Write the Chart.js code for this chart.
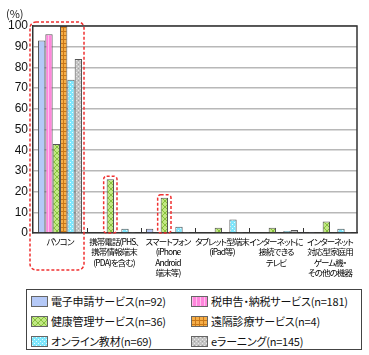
<!DOCTYPE html>
<html>
<head>
<meta charset="utf-8">
<script src="https://cdn.jsdelivr.net/npm/chart.js@4.4.1/dist/chart.umd.min.js"></script>
<style>
  body { margin: 0; background: #fff; font-family: "Noto Sans CJK JP", sans-serif;
         font-feature-settings: "palt"; }
  #wrap { position: relative; width: 369px; height: 355px; }
  canvas { display: block; }
  #unit { position: absolute; left: 6px; top: 5px; font-size: 11px; color: #222; }
  #legend { position: absolute; left: 26px; top: 289px; width: 336px; height: 61px;
            border: 1px solid #444; box-sizing: border-box; }
  .item { position: absolute; font-size: 11px; line-height: 14px; white-space: nowrap; color: #111;
          letter-spacing: -0.2px; }
  .item span.sw { display: inline-block; width: 15px; height: 9px; border: 1px solid #666;
                  vertical-align: -1px; margin-right: 3px; }
  .xl { position: absolute; font-size: 8.5px; line-height: 10.3px; text-align: center;
        white-space: nowrap; color: #000; transform: translateX(-50%); letter-spacing: -0.9px; }
</style>
</head>
<body>
<div id="wrap">
  <canvas id="c" width="369" height="289"></canvas>
  <div id="unit">(%)</div>
  <div id="legend"></div>
</div>
<script>
// categories (x axis), each one split into lines
const categories = [
  ["パソコン"],
  ["携帯電話(PHS、", "携帯情報端末", "(PDA)を含む)"],
  ["スマートフォン", "(iPhone", "Android", "端末等)"],
  ["タブレット型端末", "(iPad等)"],
  ["インターネットに", "接続できる", "テレビ"],
  ["インターネット", "対応型家庭用", "ゲーム機・", "その他の機器"]
];

const seriesNames = [
  "電子申請サービス(n=92)",
  "税申告・納税サービス(n=181)",
  "健康管理サービス(n=36)",
  "遠隔診療サービス(n=4)",
  "オンライン教材(n=69)",
  "eラーニング(n=145)"
];

// values in %
const denshi      = [93, 0,   2,   0,   0,   0.5];
const zeishinkoku = [96, 0,   0,   0,   0,   0];
const kenko       = [43, 26,  17,  2.5, 2.5, 5.5];
const enkaku      = [100, 0,  0,   0,   0,   0];
const online      = [74, 2,   3,   6.5, 1,   2];
const elearning   = [84, 0.5, 0.5, 0.5, 1.5, 0.5];

const yTicks = [0, 10, 20, 30, 40, 50, 60, 70, 80, 90, 100];

// little tiles for the hatched fills
function tile(size, bg, draw) {
  const cv = document.createElement('canvas');
  cv.width = size; cv.height = size;
  const g = cv.getContext('2d');
  g.fillStyle = bg;
  g.fillRect(0, 0, size, size);
  if (draw) draw(g, size);
  return cv;
}

const tiles = [
  tile(4, '#b5c9f7'),
  tile(4, '#ff86dc', (g) => { g.fillStyle = '#ffc0ee'; g.fillRect(0, 0, 1, 4); }),
  tile(6, '#c2e884', (g) => {
    g.strokeStyle = '#86c03c'; g.lineWidth = 1;
    g.beginPath(); g.moveTo(0, 0); g.lineTo(6, 6); g.moveTo(6, 0); g.lineTo(0, 6); g.stroke();
  }),
  tile(4, '#f6ae48', (g) => { g.fillStyle = '#c87818'; g.fillRect(0, 3, 4, 1); g.fillRect(3, 0, 1, 4); }),
  tile(4, '#7ee6fc', (g) => { g.fillStyle = '#e8fcff'; g.fillRect(0, 0, 1, 1); g.fillRect(2, 2, 1, 1); }),
  tile(4, '#c4c4c4', (g) => { g.fillStyle = '#e8e8e8'; g.fillRect(0, 0, 1, 1); g.fillRect(2, 2, 1, 1);
                             g.fillStyle = '#a0a0a0'; g.fillRect(2, 0, 1, 1); })
];

const ctx = document.getElementById('c').getContext('2d');
const fills = tiles.map(t => ctx.createPattern(t, 'repeat'));

const allValues = [denshi, zeishinkoku, kenko, enkaku, online, elearning];

// legend (html, two columns)
const legend = document.getElementById('legend');
seriesNames.forEach((name, i) => {
  const d = document.createElement('div');
  d.className = 'item';
  d.style.left = (i % 2 === 0 ? 4 : 164) + 'px';
  d.style.top = (4 + Math.floor(i / 2) * 20) + 'px';
  d.innerHTML = '<span class="sw" style="background-image:url(' + tiles[i].toDataURL() + ')"></span>' + name;
  legend.appendChild(d);
});

// frame, category ticks and red dashed marks
const extras = {
  id: 'extras',
  afterDatasetsDraw(chart) {
    const c = chart.ctx;
    const x = chart.scales.x, y = chart.scales.y;
    c.save();
    c.strokeStyle = '#333';
    c.lineWidth = 1.5;
    c.beginPath();
    c.moveTo(x.left, y.top); c.lineTo(x.right, y.top); c.lineTo(x.right, y.bottom);
    c.stroke();
    // small ticks between categories
    c.lineWidth = 1;
    for (let i = 1; i < categories.length; i++) {
      const px = Math.round((x.getPixelForValue(i - 1) + x.getPixelForValue(i)) / 2) + 0.5;
      c.beginPath(); c.moveTo(px, y.bottom); c.lineTo(px, y.bottom - 5); c.stroke();
    }
    c.restore();

    const m5 = chart.getDatasetMeta(5).data;
    const mg = chart.getDatasetMeta(2).data;
    c.save();
    c.strokeStyle = '#f03030';
    c.lineWidth = 1.5;
    c.setLineDash([3, 2]);
    const rr = (l, t, r, b, rad) => {
      c.beginPath();
      c.roundRect(l, t, r - l, b - t, rad);
      c.stroke();
    };
    rr(x.left - 3, y.getPixelForValue(100) - 4,
       m5[0].x + m5[0].width / 2 + 2, y.bottom + 37, 6);
    [1, 2].forEach(i => {
      const b = mg[i];
      rr(b.x - b.width / 2 - 3, b.y - 3, b.x + b.width / 2 + 3, y.bottom, 3);
    });
    c.restore();
  }
};

const chart = new Chart(ctx, {
  type: 'bar',
  data: {
    labels: categories,
    datasets: seriesNames.map((name, i) => ({
      label: name,
      data: allValues[i],
      backgroundColor: fills[i],
      borderColor: '#555',
      borderWidth: 1,
      barPercentage: 1,
      categoryPercentage: 0.815
    }))
  },
  options: {
    responsive: false,
    animation: false,
    layout: { padding: { left: 0, right: 12, top: 26, bottom: 0 } },
    plugins: { legend: { display: false }, tooltip: { enabled: false } },
    scales: {
      x: {
        grid: { display: false },
        border: { color: '#333', width: 1.5 },
        ticks: { display: false },
        afterFit(s) { s.height = 56; }
      },
      y: {
        min: 0, max: 100,
        afterBuildTicks(s) { s.ticks = yTicks.map(v => ({ value: v })); },
        grid: { color: '#b8b8b8', lineWidth: 1.5, drawTicks: false },
        border: { color: '#333', width: 1.5 },
        ticks: {
          color: '#111',
          font: { family: '"Liberation Sans", Arial, sans-serif', size: 12 },
          padding: 5
        },
        afterFit(s) { s.width = 33; }
      }
    }
  },
  plugins: [extras]
});

// category labels placed from the x scale (html so proportional kana spacing works)
const wrap = document.getElementById('wrap');
categories.forEach((lines, i) => {
  const d = document.createElement('div');
  d.className = 'xl';
  d.style.left = chart.scales.x.getPixelForValue(i) + 'px';
  d.style.top = (chart.scales.y.bottom + 3) + 'px';
  d.innerHTML = lines.join('<br>');
  wrap.appendChild(d);
});
</script>
</body>
</html>
